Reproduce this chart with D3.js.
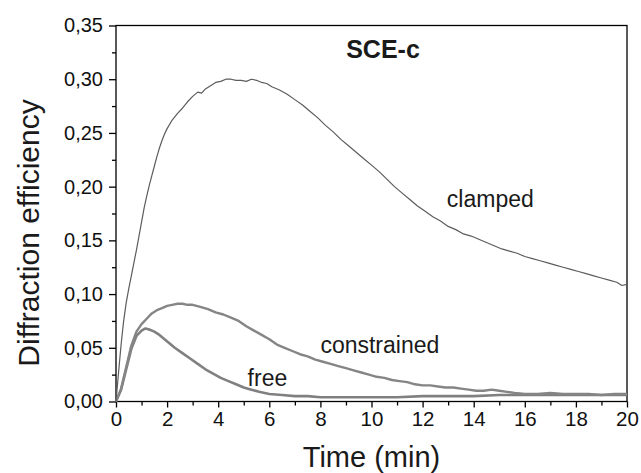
<!DOCTYPE html>
<html>
<head>
<meta charset="utf-8">
<script src="https://cdn.jsdelivr.net/npm/d3@7"></script>
<style>
  html, body { margin: 0; padding: 0; background: #fff; }
  svg { display: block; font-family: "Liberation Sans", Arial, sans-serif; }
</style>
</head>
<body>
<svg id="chart" width="641" height="473"></svg>
<script>
// values, [time (min), diffraction efficiency]
const clamped = [
  [0,0],[0.1,0.027],[0.2,0.053],[0.3,0.075],[0.4,0.092],[0.5,0.105],[0.6,0.117],[0.7,0.129],
  [0.8,0.141],[0.9,0.154],[1.0,0.167],[1.1,0.180],[1.2,0.191],[1.3,0.201],[1.4,0.210],
  [1.5,0.219],[1.6,0.228],[1.7,0.236],[1.8,0.243],[1.9,0.249],[2.0,0.254],[2.2,0.262],
  [2.4,0.268],[2.6,0.273],[2.8,0.279],[3.0,0.284],[3.2,0.288],[3.35,0.287],[3.5,0.291],
  [3.7,0.294],[3.9,0.297],[4.1,0.298],[4.3,0.300],[4.5,0.300],[4.7,0.299],[4.9,0.299],
  [5.1,0.298],[5.3,0.300],[5.5,0.299],[5.7,0.297],[5.9,0.296],[6.1,0.293],[6.4,0.290],
  [6.7,0.286],[7.0,0.281],[7.3,0.276],[7.6,0.270],[7.9,0.264],[8.2,0.257],[8.5,0.251],
  [8.8,0.244],[9.1,0.238],[9.4,0.232],[9.7,0.226],[10.0,0.220],[10.3,0.214],[10.6,0.207],
  [10.9,0.200],[11.2,0.194],[11.5,0.188],[11.8,0.182],[12.1,0.177],[12.4,0.172],[12.7,0.168],
  [13.0,0.163],[13.3,0.160],[13.6,0.156],[13.9,0.154],[14.2,0.151],[14.5,0.148],[14.8,0.145],
  [15.1,0.142],[15.4,0.140],[15.7,0.138],[16.0,0.135],[16.3,0.133],[16.6,0.131],[16.9,0.129],
  [17.2,0.127],[17.5,0.125],[17.8,0.123],[18.1,0.121],[18.4,0.119],[18.7,0.117],[19.0,0.115],
  [19.3,0.113],[19.6,0.111],[19.8,0.108],[20.0,0.109]
];

const constrained = [
  [0,0],[0.2,0.012],[0.4,0.032],[0.6,0.052],[0.8,0.065],[1.0,0.072],[1.2,0.077],[1.4,0.082],
  [1.6,0.085],[1.8,0.087],[2.0,0.089],[2.2,0.090],[2.4,0.091],[2.6,0.091],[2.8,0.090],
  [3.0,0.090],[3.3,0.088],[3.6,0.086],[3.9,0.083],[4.2,0.081],[4.5,0.078],[4.8,0.075],
  [5.1,0.070],[5.4,0.066],[5.7,0.062],[6.0,0.058],[6.3,0.053],[6.6,0.050],[6.9,0.047],
  [7.2,0.044],[7.5,0.042],[7.8,0.039],[8.1,0.037],[8.4,0.035],[8.7,0.033],[9.0,0.031],
  [9.3,0.029],[9.6,0.027],[9.9,0.025],[10.2,0.023],[10.5,0.022],[10.8,0.020],[11.1,0.019],
  [11.4,0.018],[11.7,0.016],[12.0,0.015],[12.3,0.015],[12.6,0.014],[12.9,0.013],[13.2,0.013],
  [13.5,0.012],[13.8,0.011],[14.1,0.010],[14.4,0.010],[14.7,0.011],[15.0,0.010],[15.3,0.009],
  [15.6,0.008],[16.0,0.007],[16.5,0.007],[17.0,0.008],[17.5,0.007],[18.0,0.007],[18.5,0.007],
  [19.0,0.006],[19.5,0.007],[20.0,0.007]
];

const free = [
  [0,0],[0.2,0.011],[0.4,0.030],[0.6,0.049],[0.8,0.061],[1.0,0.066],[1.15,0.068],[1.3,0.067],
  [1.5,0.065],[1.7,0.062],[1.9,0.058],[2.1,0.054],[2.3,0.050],[2.6,0.045],[2.9,0.040],
  [3.2,0.035],[3.5,0.030],[3.8,0.026],[4.1,0.022],[4.4,0.019],[4.7,0.016],[5.0,0.013],
  [5.3,0.011],[5.6,0.009],[6.0,0.007],[6.5,0.006],[7.0,0.005],[7.5,0.005],[8.0,0.004],
  [8.5,0.004],[9.0,0.004],[9.5,0.004],[10.0,0.004],[11.0,0.004],[12.0,0.005],[13.0,0.005],
  [14.0,0.005],[15.0,0.006],[16.0,0.006],[17.0,0.006],[18.0,0.006],[19.0,0.006],[20.0,0.006]
];

const xTicks = d3.range(0, 21, 2);
const xMinor = d3.range(1, 20, 2);
const yTicks = d3.range(0, 0.351, 0.05);
const yMinor = d3.range(0.025, 0.35, 0.05);

const labels = [
  { text: "clamped", t: 12.95, v: 0.181 },
  { text: "constrained", t: 8.0, v: 0.045 },
  { text: "free", t: 5.15, v: 0.014 }
];

const svg = d3.select("#chart");
const plotLeft = 116, plotRight = 627, plotTop = 25.5, plotBottom = 401.5;

const x = d3.scaleLinear().domain([0, 20]).range([plotLeft, plotRight]);
const y = d3.scaleLinear().domain([0, 0.35]).range([plotBottom, plotTop]);

const comma = d3.formatLocale({ decimal: ",", thousands: ".", grouping: [3], currency: ["", ""] });
const fmt = comma.format(".2f");

// frame
svg.append("rect")
  .attr("x", plotLeft).attr("y", plotTop)
  .attr("width", plotRight - plotLeft).attr("height", plotBottom - plotTop)
  .attr("fill", "none").attr("stroke", "#000").attr("stroke-width", 1.3);

// x axis
const xAxis = svg.append("g").attr("transform", `translate(0,${plotBottom})`);
xAxis.call(d3.axisBottom(x).tickValues(xTicks).tickSize(6).tickSizeOuter(0).tickPadding(4).tickFormat(d3.format("d")));
xAxis.append("g").call(d3.axisBottom(x).tickValues(xMinor).tickSize(4).tickSizeOuter(0).tickFormat(""));
xAxis.selectAll(".domain").remove();
xAxis.selectAll("line").attr("stroke", "#000").attr("stroke-width", 1.3);
xAxis.selectAll("text").attr("font-size", 20.5).attr("fill", "#111").attr("font-family", "Liberation Sans, Arial, sans-serif");

// y axis
const yAxis = svg.append("g").attr("transform", `translate(${plotLeft},0)`);
yAxis.call(d3.axisLeft(y).tickValues(yTicks).tickSize(7).tickSizeOuter(0).tickPadding(6).tickFormat(fmt));
yAxis.append("g").call(d3.axisLeft(y).tickValues(yMinor).tickSize(4).tickSizeOuter(0).tickFormat(""));
yAxis.selectAll(".domain").remove();
yAxis.selectAll("line").attr("stroke", "#000").attr("stroke-width", 1.3);
yAxis.selectAll("text").attr("font-size", 20).attr("fill", "#111").attr("font-family", "Liberation Sans, Arial, sans-serif");

// curves
const line = d3.line().x(d => x(d[0])).y(d => y(d[1]));

svg.append("path").datum(free)
  .attr("d", line).attr("fill", "none")
  .attr("stroke", "#808080").attr("stroke-width", 2.6).attr("stroke-linejoin", "round");

svg.append("path").datum(constrained)
  .attr("d", line).attr("fill", "none")
  .attr("stroke", "#858585").attr("stroke-width", 2.4).attr("stroke-linejoin", "round");

svg.append("path").datum(clamped)
  .attr("d", line).attr("fill", "none")
  .attr("stroke", "#5c5c5c").attr("stroke-width", 1.2).attr("stroke-linejoin", "round");

// annotations
svg.selectAll(".lab").data(labels).enter().append("text")
  .attr("class", "lab")
  .attr("x", d => x(d.t)).attr("y", d => y(d.v))
  .attr("font-size", 23).attr("fill", "#1a1a1a")
  .text(d => d.text);

svg.append("text")
  .attr("x", 383).attr("y", 58)
  .attr("text-anchor", "middle")
  .attr("font-size", 25).attr("font-weight", "bold").attr("fill", "#1a1a1a")
  .text("SCE-c");

// axis titles
svg.append("text")
  .attr("x", (plotLeft + plotRight) / 2).attr("y", 467)
  .attr("text-anchor", "middle")
  .attr("font-size", 29).attr("fill", "#1a1a1a")
  .text("Time (min)");

svg.append("text")
  .attr("transform", "translate(39,233) rotate(-90)")
  .attr("text-anchor", "middle")
  .attr("font-size", 30).attr("fill", "#1a1a1a")
  .text("Diffraction efficiency");
</script>
</body>
</html>
